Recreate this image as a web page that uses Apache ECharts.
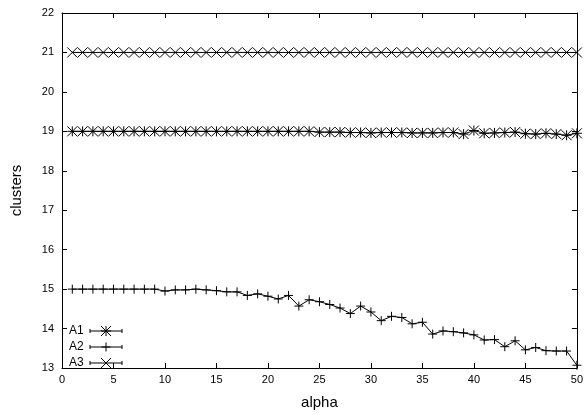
<!DOCTYPE html>
<html>
<head>
<meta charset="utf-8">
<script src="https://cdn.jsdelivr.net/npm/echarts@6/dist/echarts.min.js"></script>
<style>
  html, body { margin: 0; padding: 0; background: #fff; }
  #chart { width: 586px; height: 415px; }
</style>
</head>
<body>
<div id="chart"></div>
<script>
// values
var alpha = [1, 2, 3, 4, 5, 6, 7, 8, 9, 10, 11, 12, 13, 14, 15, 16, 17, 18, 19, 20,
  21, 22, 23, 24, 25, 26, 27, 28, 29, 30, 31, 32, 33, 34, 35, 36, 37, 38, 39, 40,
  41, 42, 43, 44, 45, 46, 47, 48, 49, 50];
var a1 = [19, 19, 19, 19, 19, 19, 19, 19, 19, 19, 19, 19, 19, 19, 19, 19, 19, 19, 19, 19,
  19, 19, 19, 19, 18.98, 18.98, 18.98, 18.97, 18.97, 18.96, 18.97, 18.97, 18.97, 18.96, 18.96, 18.96, 18.97, 18.97, 18.93, 19.02,
  18.95, 18.96, 18.97, 18.98, 18.94, 18.93, 18.95, 18.93, 18.9, 18.95];
var a2 = [15, 15, 15, 15, 15, 15, 15, 15, 15, 14.95, 14.98, 14.98, 15, 14.98, 14.96, 14.93, 14.93, 14.84, 14.88, 14.82,
  14.75, 14.84, 14.57, 14.73, 14.68, 14.61, 14.52, 14.38, 14.57, 14.42, 14.2, 14.31, 14.28, 14.12, 14.16, 13.86, 13.94, 13.92, 13.89, 13.84,
  13.71, 13.72, 13.54, 13.69, 13.46, 13.52, 13.44, 13.43, 13.43, 13.07];
var a3 = [21, 21, 21, 21, 21, 21, 21, 21, 21, 21, 21, 21, 21, 21, 21, 21, 21, 21, 21, 21,
  21, 21, 21, 21, 21, 21, 21, 21, 21, 21, 21, 21, 21, 21, 21, 21, 21, 21, 21, 21,
  21, 21, 21, 21, 21, 21, 21, 21, 21, 21];
var seriesNames = ['A1', 'A2', 'A3'];

var FONT = '"Liberation Sans", Arial, sans-serif';
var STAR = 'path://M5,0L5,10M0,5L10,5M0,0L10,10M10,0L0,10';
var PLUS = 'path://M5,0L5,10M0,5L10,5';
var CROSS = 'path://M0,0L10,10M10,0L0,10';
var symbols = [STAR, PLUS, CROSS];
var sizes = [10, 9, 10];
// marker strokes for the key, relative to the marker centre
var keyStrokes = [
  [[0, -5, 0, 5], [-5, 0, 5, 0], [-5, -5, 5, 5], [5, -5, -5, 5]],
  [[0, -4.5, 0, 4.5], [-4.5, 0, 4.5, 0]],
  [[-5, -5, 5, 5], [5, -5, -5, 5]]
];

function pairs(ys) {
  var out = [];
  for (var i = 0; i < alpha.length; i++) out.push([alpha[i], ys[i]]);
  return out;
}

function mkSeries(name, ys, idx) {
  return {
    name: name,
    type: 'line',
    data: pairs(ys),
    symbol: symbols[idx],
    symbolSize: sizes[idx],
    showSymbol: true,
    animation: false,
    lineStyle: { color: '#000', width: 1 },
    itemStyle: { color: 'none', borderColor: '#000', borderWidth: 1 },
    emphasis: { disabled: true },
    z: 3
  };
}

function seg(x1, y1, x2, y2) {
  return { type: 'line', shape: { x1: x1, y1: y1, x2: x2, y2: y2 }, style: { stroke: '#000', lineWidth: 1 }, z: 10 };
}

// legend drawn like gnuplot's key (error-bar sample + point)
var legendItems = [];
var legY = [331, 347, 363];
for (var i = 0; i < seriesNames.length; i++) {
  var y = legY[i];
  legendItems.push({
    type: 'text', x: 69, y: y, z: 10,
    style: { text: seriesNames[i], fontFamily: FONT, fontSize: 12, fill: '#000', verticalAlign: 'middle' }
  });
  legendItems.push(seg(90, y, 122, y));
  legendItems.push(seg(90, y - 2, 90, y + 2));
  legendItems.push(seg(122, y - 2, 122, y + 2));
  keyStrokes[i].forEach(function (s) {
    legendItems.push(seg(106 + s[0], y + s[1], 106 + s[2], y + s[3]));
  });
}

var tickStyle = { show: true, inside: true, length: 5, lineStyle: { color: '#000' } };
var lineStyle = { show: true, onZero: false, lineStyle: { color: '#000', width: 1 } };

var chart = echarts.init(document.getElementById('chart'));
chart.setOption({
  backgroundColor: '#fff',
  animation: false,
  grid: { left: 62, right: 7, top: 13, bottom: 39 },
  xAxis: [{
    type: 'value', min: 0, max: 50, interval: 5, position: 'bottom',
    name: 'alpha', nameLocation: 'middle', nameGap: 27,
    nameTextStyle: { fontFamily: FONT, fontSize: 15, color: '#000' },
    axisLine: lineStyle, axisTick: tickStyle,
    axisLabel: { fontFamily: FONT, fontSize: 11, color: '#000', margin: 6 },
    splitLine: { show: false }
  }, {
    type: 'value', min: 0, max: 50, interval: 5, position: 'top',
    axisLine: lineStyle, axisTick: tickStyle,
    axisLabel: { show: false }, splitLine: { show: false }
  }],
  yAxis: [{
    type: 'value', min: 13, max: 22, interval: 1, position: 'left',
    name: 'clusters', nameLocation: 'middle', nameGap: 38, nameRotate: 90,
    nameTextStyle: { fontFamily: FONT, fontSize: 15, color: '#000' },
    axisLine: lineStyle, axisTick: tickStyle,
    axisLabel: { fontFamily: FONT, fontSize: 11, color: '#000', margin: 8 },
    splitLine: { show: false }
  }, {
    type: 'value', min: 13, max: 22, interval: 1, position: 'right',
    axisLine: lineStyle, axisTick: tickStyle,
    axisLabel: { show: false }, splitLine: { show: false }
  }],
  graphic: legendItems,
  series: [
    mkSeries('A1', a1, 0),
    mkSeries('A2', a2, 1),
    mkSeries('A3', a3, 2)
  ]
});
</script>
</body>
</html>
